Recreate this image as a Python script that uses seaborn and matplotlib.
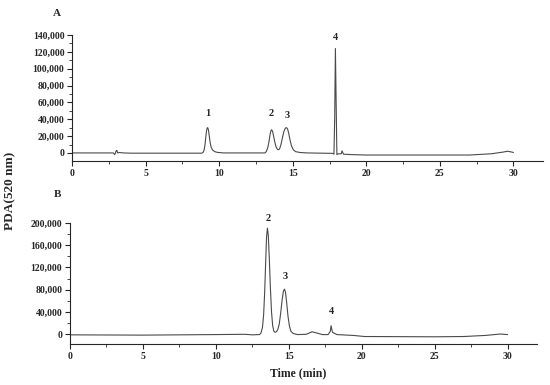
import pandas as pd
import numpy as np
import matplotlib.pyplot as plt
import seaborn as sns
from matplotlib.ticker import MultipleLocator, FuncFormatter

# chromatogram A (time in min, PDA signal)
time_a = [0, 2.8, 2.9, 3.0, 3.05, 3.1, 3.2, 3.5, 4.0,
          8.8, 8.9, 8.97, 9.03, 9.08, 9.13, 9.18, 9.22, 9.27, 9.32, 9.38, 9.45, 9.55, 9.7, 9.9, 10.3,
          13.1, 13.2, 13.3, 13.38, 13.45, 13.52, 13.57, 13.63, 13.7, 13.78, 13.87, 13.97, 14.05,
          14.12, 14.2, 14.3, 14.4, 14.5, 14.58, 14.65, 14.73, 14.82, 14.92, 15.05, 15.2, 15.5, 16.0,
          17.7, 17.8, 17.85, 17.9, 17.95, 18.0, 18.1, 18.3, 18.35, 18.45, 19.0, 20.0, 27.0, 28.5,
          29.3, 29.6, 29.9, 30.0]
signal_a = [0, 0, -2000, 2500, 3000, 0, 500, 0, -300,
            -300, 500, 3000, 9000, 17000, 25000, 29500, 30000, 27500, 21000, 13000, 7000, 3500, 1500, 600, 0,
            0, 1500, 6000, 13000, 21000, 26500, 27500, 25500, 20000, 13000, 7000, 4000, 3800,
            5500, 10000, 18000, 25500, 29500, 30000, 28500, 23000, 15000, 8000, 3500, 1500, 500, 0,
            -500, -1500, 40000, 124000, 60000, -2000, -1000, -1000, 2500, -1500, -2000, -2500, -2500, -1000,
            1000, 2000, 1000, 500]

# chromatogram B
time_b = [0, 5, 10, 12, 12.5, 13.0, 13.1, 13.2, 13.28, 13.35, 13.42, 13.48, 13.54, 13.6, 13.67, 13.74,
          13.82, 13.9, 13.98, 14.06, 14.15, 14.25, 14.35, 14.45, 14.55, 14.64, 14.71, 14.78, 14.86, 14.95,
          15.05, 15.15, 15.3, 15.6, 16.2, 16.6, 16.9, 17.3, 17.7, 17.85, 17.9, 18.0, 18.3, 19.0, 19.4, 20.2,
          25.0, 27.0, 28.5, 29.5, 30.0]
signal_b = [-1500, -2000, -1000, -500, -1500, -1000, 2000, 12000, 35000, 75000, 130000, 175000, 191000, 178000,
            135000, 85000, 40000, 15000, 5000, 3000, 4000, 8000, 18000, 38000, 62000, 78000, 81000, 75000, 56000,
            32000, 14000, 5000, 1000, -1000, -500, 4000, 2000, -1000, -1000, 5000, 15000, 3000, -1000, -2000,
            -2500, -4500, -5000, -4500, -2500, 0, -1000]

# peak labels
peaks_a = ["1", "2", "3", "4"]
peak_x_a = [9.2, 13.55, 14.65, 17.9]
peak_y_a = [47000, 47000, 45000, 137000]
peaks_b = ["2", "3", "4"]
peak_x_b = [13.6, 14.75, 17.9]
peak_y_b = [209000, 104000, 40000]

sns.set_style("ticks")
plt.rcParams['font.family'] = ['Liberation Serif', 'DejaVu Serif']
plt.rcParams['font.weight'] = 'bold'

fig = plt.figure(figsize=(5.5, 3.85), dpi=100)
ax1 = fig.add_axes([0.131, 0.582, 0.856, 0.327])
ax2 = fig.add_axes([0.127, 0.1065, 0.849, 0.314])

df_a = pd.DataFrame({"t": time_a, "s": signal_a})
df_b = pd.DataFrame({"t": time_b, "s": signal_b})

line_col = "#4a4a4a"
sns.lineplot(data=df_a, x="t", y="s", ax=ax1, color=line_col, lw=0.8, sort=False, estimator=None)
sns.lineplot(data=df_b, x="t", y="s", ax=ax2, color=line_col, lw=0.8, sort=False, estimator=None)

fmt = FuncFormatter(lambda v, p: f"{int(v):,}")
for ax, ymin, ymax, ystep in [(ax1, -9500, 140000, 20000), (ax2, -18000, 200000, 40000)]:
    ax.set_xlim(0, 32)
    ax.set_xticks([0, 5, 10, 15, 20, 25, 30])
    ax.xaxis.set_minor_locator(MultipleLocator(2.5))
    ax.yaxis.set_major_locator(MultipleLocator(ystep))
    ax.yaxis.set_minor_locator(MultipleLocator(ystep / 2))
    ax.yaxis.set_major_formatter(fmt)
    ax.set_ylim(ymin, ymax)
    ax.tick_params(axis='both', which='major', direction='out', length=3.5, width=0.8, labelsize=7, pad=2)
    ax.tick_params(axis='both', which='minor', direction='out', length=2, width=0.6)
    for lab in ax.get_xticklabels() + ax.get_yticklabels():
        lab.set_fontweight('bold')
    sns.despine(ax=ax)
    ax.spines['left'].set_linewidth(0.8)
    ax.spines['bottom'].set_linewidth(0.8)
    ax.set_xlabel("")
    ax.set_ylabel("")

for lab, x, y in zip(peaks_a, peak_x_a, peak_y_a):
    ax1.text(x, y, lab, ha='center', va='center', fontsize=7.5, fontweight='bold')
for lab, x, y in zip(peaks_b, peak_x_b, peak_y_b):
    ax2.text(x, y, lab, ha='center', va='center', fontsize=7.5, fontweight='bold')

fig.text(0.104, 0.966, "A", fontsize=8, fontweight='bold', ha='center', va='center')
fig.text(0.104, 0.495, "B", fontsize=8, fontweight='bold', ha='center', va='center')
fig.text(0.018, 0.505, "PDA(520 nm)", rotation=90, fontsize=9.5, fontweight='bold', ha='center', va='center')
fig.text(0.542, 0.03, "Time (min)", fontsize=8.5, fontweight='bold', ha='center', va='center')

plt.savefig("out.png", dpi=100)
